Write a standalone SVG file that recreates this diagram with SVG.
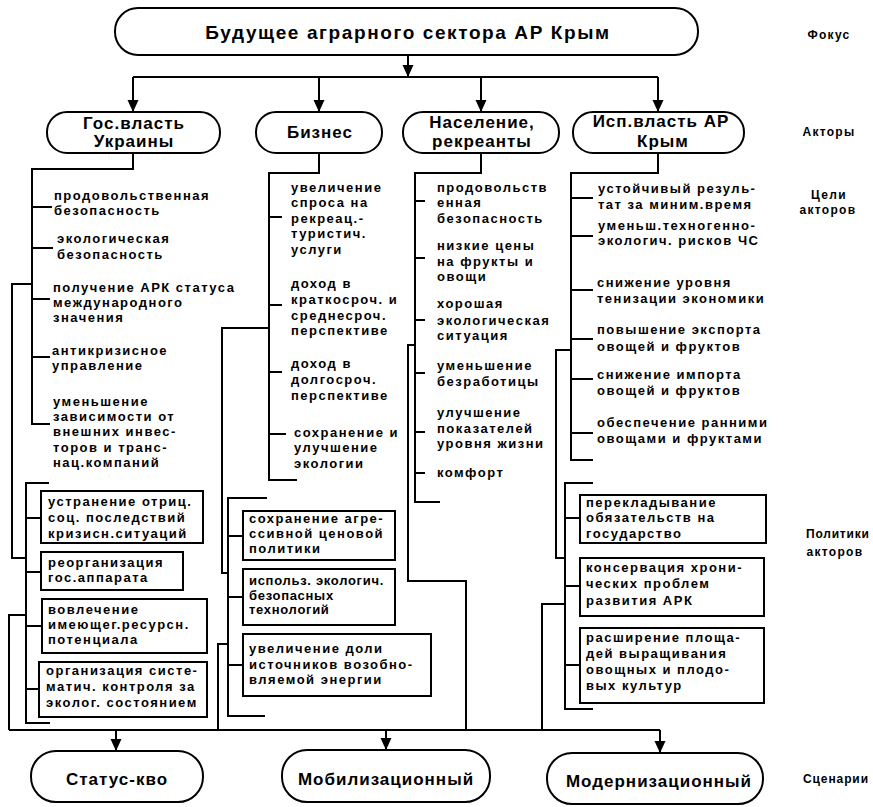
<svg xmlns="http://www.w3.org/2000/svg" width="873" height="807" viewBox="0 0 873 807">
<defs>
<style>
.pill{fill:#fff;stroke:#000;stroke-width:2}
.box{fill:#fff;stroke:#000;stroke-width:2}
.ln{fill:none;stroke:#000;stroke-width:2}
text{font-family:"Liberation Sans",Arial,sans-serif;font-weight:bold;fill:#000}
.h1{font-size:19px;letter-spacing:1.6px;text-anchor:middle}
.h2{font-size:17px;letter-spacing:1px;text-anchor:middle}
.t{font-size:13px;letter-spacing:1.5px}
.ts{font-size:13px;letter-spacing:0.7px}
.lbl{font-size:12px;letter-spacing:1.3px}
.mid{text-anchor:middle}
</style>
<marker id="ah" markerUnits="userSpaceOnUse" markerWidth="12" markerHeight="12" refX="12" refY="5.5" orient="auto">
<path d="M0,0 L12,5.5 L0,11 z" fill="#000"/>
</marker>
</defs>
<rect width="873" height="807" fill="#fff"/>

<g id="connectors">
<path class="ln" d="M408,55 V77" marker-end="url(#ah)"/>
<path class="ln" d="M133,77 H658"/>
<path class="ln" d="M133,77 V112" marker-end="url(#ah)"/>
<path class="ln" d="M319,77 V112" marker-end="url(#ah)"/>
<path class="ln" d="M481,77 V112" marker-end="url(#ah)"/>
<path class="ln" d="M658,77 V112" marker-end="url(#ah)"/>
<path class="ln" d="M133,153 V169 H32 V424 H50 M32,207 H52 M32,248 H53 M32,299 H50 M32,357 H50"/>
<path class="ln" d="M319,153 V173 H269 V480 H297 M269,217 H282 M269,305 H282 M269,372 H282 M269,434 H286"/>
<path class="ln" d="M481,153 V173 H415 V502 H440 M415,201 H425 M415,258 H425 M415,320 H425 M415,373 H425 M415,432 H425 M415,473 H425"/>
<path class="ln" d="M658,153 V173 H571 V460 H593 M571,198 H593 M571,236 H593 M571,290 H593 M571,339 H593 M571,379 H593 M571,433 H593"/>
<path class="ln" d="M32,284 H12 V558 H26"/>
<path class="ln" d="M269,328 H222 V573 H228"/>
<path class="ln" d="M415,345 H408 V581 H466 V730"/>
<path class="ln" d="M571,350 H556 V558 H565"/>
<path class="ln" d="M49,483 H26 V723 H50 M26,518 H41 M26,572 H41 M26,626 H42 M26,689 H39"/>
<path class="ln" d="M267,498 H228 V716 H265 M228,536 H243 M228,597 H243 M228,665 H243"/>
<path class="ln" d="M593,483 H565 V709 H593 M565,518 H580 M565,586 H580 M565,665 H580"/>
<path class="ln" d="M26,615 H9 V730"/>
<path class="ln" d="M228,644 H218 V730"/>
<path class="ln" d="M565,604 H542 V730"/>
<path class="ln" d="M9,730 H660"/>
<path class="ln" d="M116,730 V751" marker-end="url(#ah)"/>
<path class="ln" d="M386,730 V750" marker-end="url(#ah)"/>
<path class="ln" d="M660,730 V753" marker-end="url(#ah)"/>
</g>

<g id="focus">
<rect class="pill" x="115" y="8" width="583" height="47" rx="23"/>
<text class="h1" x="408" y="39">Будущее аграрного сектора АР Крым</text>
</g>

<g id="actor-gov">
<rect class="pill" x="47" y="112" width="173" height="41" rx="20"/>
<text class="h2" x="134" y="129">Гос.власть</text>
<text class="h2" x="134" y="147">Украины</text>
</g>
<g id="actor-business">
<rect class="pill" x="256" y="112" width="126" height="41" rx="20"/>
<text class="h2" x="320" y="138">Бизнес</text>
</g>
<g id="actor-population">
<rect class="pill" x="403" y="112" width="156" height="41" rx="20"/>
<text class="h2" x="482" y="128">Население,</text>
<text class="h2" x="482" y="147">рекреанты</text>
</g>
<g id="actor-exec">
<rect class="pill" x="573" y="112" width="171" height="41" rx="20"/>
<text class="h2" x="661" y="127">Исп.власть АР</text>
<text class="h2" x="663" y="147">Крым</text>
</g>

<g id="goals-gov">
<text class="t" x="54" y="200">продовольственная</text>
<text class="t" x="54" y="215">безопасность</text>
<text class="t" x="57" y="243">экологическая</text>
<text class="t" x="57" y="259">безопасность</text>
<text class="t" x="53" y="292">получение АРК статуса</text>
<text class="t" x="53" y="307">международного</text>
<text class="t" x="53" y="322">значения</text>
<text class="t" x="52" y="355">антикризисное</text>
<text class="t" x="52" y="370">управление</text>
<text class="t" x="53" y="406">уменьшение</text>
<text class="t" x="53" y="421">зависимости от</text>
<text class="t" x="53" y="436">внешних инвес-</text>
<text class="t" x="53" y="452">торов и транс-</text>
<text class="t" x="53" y="467">нац.компаний</text>
</g>

<g id="goals-business">
<text class="t" x="291" y="192">увеличение</text>
<text class="t" x="291" y="207">спроса на</text>
<text class="t" x="291" y="223">рекреац.-</text>
<text class="t" x="291" y="238">туристич.</text>
<text class="t" x="291" y="254">услуги</text>
<text class="t" x="291" y="288">доход в</text>
<text class="t" x="291" y="304">краткосроч. и</text>
<text class="t" x="291" y="320">среднесроч.</text>
<text class="t" x="291" y="335">перспективе</text>
<text class="t" x="291" y="368">доход в</text>
<text class="t" x="291" y="384">долгосроч.</text>
<text class="t" x="291" y="400">перспективе</text>
<text class="t" x="294" y="437">сохранение и</text>
<text class="t" x="294" y="452">улучшение</text>
<text class="t" x="294" y="468">экологии</text>
</g>

<g id="goals-population">
<text class="t" x="437" y="192">продовольств</text>
<text class="t" x="437" y="207">енная</text>
<text class="t" x="437" y="223">безопасность</text>
<text class="t" x="437" y="250">низкие цены</text>
<text class="t" x="437" y="266">на фрукты и</text>
<text class="t" x="437" y="281">овощи</text>
<text class="t" x="437" y="308">хорошая</text>
<text class="t" x="437" y="325">экологическая</text>
<text class="t" x="437" y="340">ситуация</text>
<text class="t" x="437" y="370">уменьшение</text>
<text class="t" x="437" y="386">безработицы</text>
<text class="t" x="437" y="417">улучшение</text>
<text class="t" x="437" y="433">показателей</text>
<text class="t" x="437" y="448">уровня жизни</text>
<text class="t" x="437" y="477">комфорт</text>
</g>

<g id="goals-exec">
<text class="t" x="598" y="193">устойчивый резуль-</text>
<text class="t" x="598" y="209">тат за миним.время</text>
<text class="t" x="598" y="230">уменьш.техногенно-</text>
<text class="t" x="598" y="245">экологич. рисков ЧС</text>
<text class="t" x="597" y="287">снижение уровня</text>
<text class="t" x="597" y="303">тенизации экономики</text>
<text class="t" x="597" y="334">повышение экспорта</text>
<text class="t" x="597" y="351">овощей и фруктов</text>
<text class="t" x="597" y="379">снижение импорта</text>
<text class="t" x="597" y="395">овощей и фруктов</text>
<text class="t" x="597" y="427">обеспечение ранними</text>
<text class="t" x="597" y="443">овощами и фруктами</text>
</g>

<g id="policy-gov-1">
<rect class="box" x="41" y="491" width="162" height="52"/>
<text class="t" x="48" y="506">устранение отриц.</text>
<text class="t" x="48" y="522">соц. последствий</text>
<text class="t" x="48" y="538">кризисн.ситуаций</text>
</g>
<g id="policy-gov-2">
<rect class="box" x="41" y="552" width="142" height="38"/>
<text class="t" x="48" y="567">реорганизация</text>
<text class="t" x="48" y="582">гос.аппарата</text>
</g>
<g id="policy-gov-3">
<rect class="box" x="42" y="599" width="165" height="54"/>
<text class="t" x="48" y="614">вовлечение</text>
<text class="t" x="48" y="629">имеющег.ресурсн.</text>
<text class="t" x="48" y="644">потенциала</text>
</g>
<g id="policy-gov-4">
<rect class="box" x="39" y="662" width="168" height="55"/>
<text class="t" x="46" y="675">организация систе-</text>
<text class="t" x="46" y="691">матич. контроля за</text>
<text class="t" x="46" y="707">эколог. состоянием</text>
</g>

<g id="policy-business-1">
<rect class="box" x="243" y="511" width="152" height="49"/>
<text class="t" x="249" y="523">сохранение агре-</text>
<text class="t" x="249" y="538">ссивной ценовой</text>
<text class="t" x="249" y="553">политики</text>
</g>
<g id="policy-business-2">
<rect class="box" x="243" y="569" width="152" height="56"/>
<text class="ts" x="249" y="585">использ. экологич.</text>
<text class="ts" x="249" y="600">безопасных</text>
<text class="ts" x="249" y="614">технологий</text>
</g>
<g id="policy-business-3">
<rect class="box" x="243" y="634" width="188" height="62"/>
<text class="t" x="249" y="653">увеличение доли</text>
<text class="t" x="249" y="669">источников возобно-</text>
<text class="t" x="249" y="684">вляемой энергии</text>
</g>

<g id="policy-exec-1">
<rect class="box" x="580" y="495" width="186" height="48"/>
<text class="t" x="586" y="507">перекладывание</text>
<text class="t" x="586" y="522">обязательств на</text>
<text class="t" x="586" y="538">государство</text>
</g>
<g id="policy-exec-2">
<rect class="box" x="580" y="558" width="184" height="58"/>
<text class="t" x="586" y="572">консервация хрони-</text>
<text class="t" x="586" y="588">ческих проблем</text>
<text class="t" x="586" y="605">развития АРК</text>
</g>
<g id="policy-exec-3">
<rect class="box" x="580" y="628" width="184" height="75"/>
<text class="t" x="586" y="642">расширение площа-</text>
<text class="t" x="586" y="658">дей выращивания</text>
<text class="t" x="586" y="674">овощных и плодо-</text>
<text class="t" x="586" y="690">вых культур</text>
</g>

<g id="scenario-status">
<rect class="pill" x="31" y="751" width="172" height="51" rx="25"/>
<text class="h2" x="117" y="785">Статус-кво</text>
</g>
<g id="scenario-mobil">
<rect class="pill" x="282" y="750" width="208" height="52" rx="25"/>
<text class="h2" x="386" y="785">Мобилизационный</text>
</g>
<g id="scenario-modern">
<rect class="pill" x="547" y="753" width="216" height="51" rx="25"/>
<text class="h2" x="659" y="787">Модернизационный</text>
</g>

<g id="levels">
<text class="lbl mid" x="829" y="39">Фокус</text>
<text class="lbl mid" x="829" y="136">Акторы</text>
<text class="lbl mid" x="829" y="199">Цели</text>
<text class="lbl mid" x="828" y="214">акторов</text>
<text class="lbl" x="806" y="538" style="letter-spacing:0.8px">Политики</text>
<text class="lbl mid" x="835" y="556">акторов</text>
<text class="lbl" x="803" y="783" style="letter-spacing:0.9px">Сценарии</text>
</g>
</svg>
